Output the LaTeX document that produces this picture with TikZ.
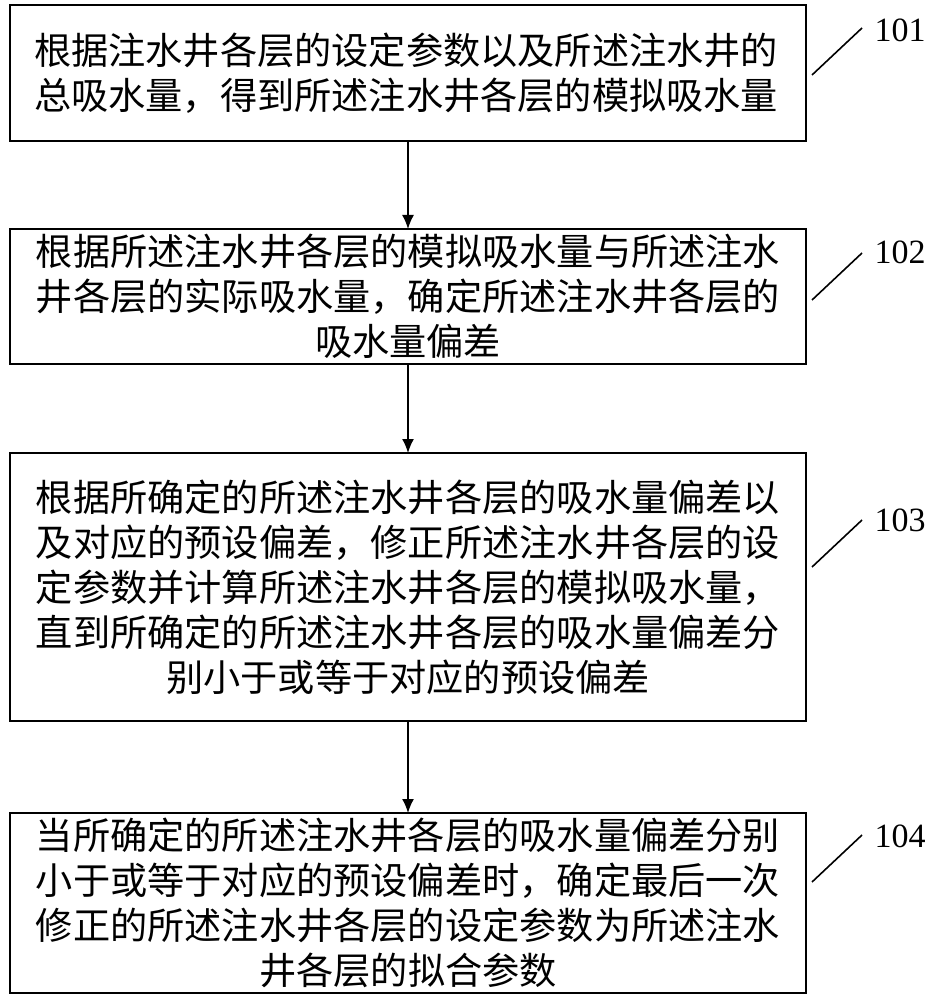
\documentclass[tikz,border=0pt]{standalone}
\usepackage{fontspec}
\newfontfamily\cjk{Noto Sans CJK SC}
\newfontfamily\numfont{Liberation Serif}
\usetikzlibrary{arrows.meta}
\begin{document}
\begin{tikzpicture}[x=0.5pt, y=-0.5pt,
  every node/.style={font=\cjk\fontsize{18.6}{22.5}\selectfont},
  stepbox/.style={draw, line width=0.6pt, inner sep=0pt},
  steptext/.style={align=center, text width=376pt, inner sep=0pt},
  flow/.style={-{Latex[length=7pt,width=6pt]}, line width=0.8pt},
  tag/.style={line width=0.8pt},
  num/.style={font=\numfont\fontsize{17}{20}\selectfont}]
  \useasboundingbox (0,0) rectangle (936,1000);
  % boxes
  \draw[stepbox] (10,5) rectangle (806,141);
  \draw[stepbox] (10,229) rectangle (806,364);
  \draw[stepbox] (10,453) rectangle (806,721);
  \draw[stepbox] (10,813) rectangle (806,993);
  \coordinate (b1) at (408,141); \coordinate (t2) at (408,229);
  \coordinate (b2) at (408,364); \coordinate (t3) at (408,453);
  \coordinate (b3) at (408,721); \coordinate (t4) at (408,813);
  % texts
  \node[steptext, align=left] (s1) at (410,73)
    {根据注水井各层的设定参数以及所述注水井的\\总吸水量，得到所述注水井各层的模拟吸水量};
  \node[steptext] (s2) at (408,296)
    {根据所述注水井各层的模拟吸水量与所述注水\\井各层的实际吸水量，确定所述注水井各层的\\吸水量偏差};
  \node[steptext] (s3) at (408,587)
    {根据所确定的所述注水井各层的吸水量偏差以\\及对应的预设偏差，修正所述注水井各层的设\\定参数并计算所述注水井各层的模拟吸水量，\\直到所确定的所述注水井各层的吸水量偏差分\\别小于或等于对应的预设偏差};
  \node[steptext] (s4) at (408,903)
    {当所确定的所述注水井各层的吸水量偏差分别\\小于或等于对应的预设偏差时，确定最后一次\\修正的所述注水井各层的设定参数为所述注水\\井各层的拟合参数};
  % arrows
  \draw[flow] (b1) -- (t2);
  \draw[flow] (b2) -- (t3);
  \draw[flow] (b3) -- (t4);
  % labels
  \node[num] (n1) at (900,30) {101};
  \node[num] (n2) at (900,252) {102};
  \node[num] (n3) at (900,520) {103};
  \node[num] (n4) at (900,836) {104};
  \draw[tag] (812,75) -- (862,28);
  \draw[tag] (812,300) -- (862,253);
  \draw[tag] (812,567) -- (862,520);
  \draw[tag] (812,882) -- (862,835);
\end{tikzpicture}
\end{document}
